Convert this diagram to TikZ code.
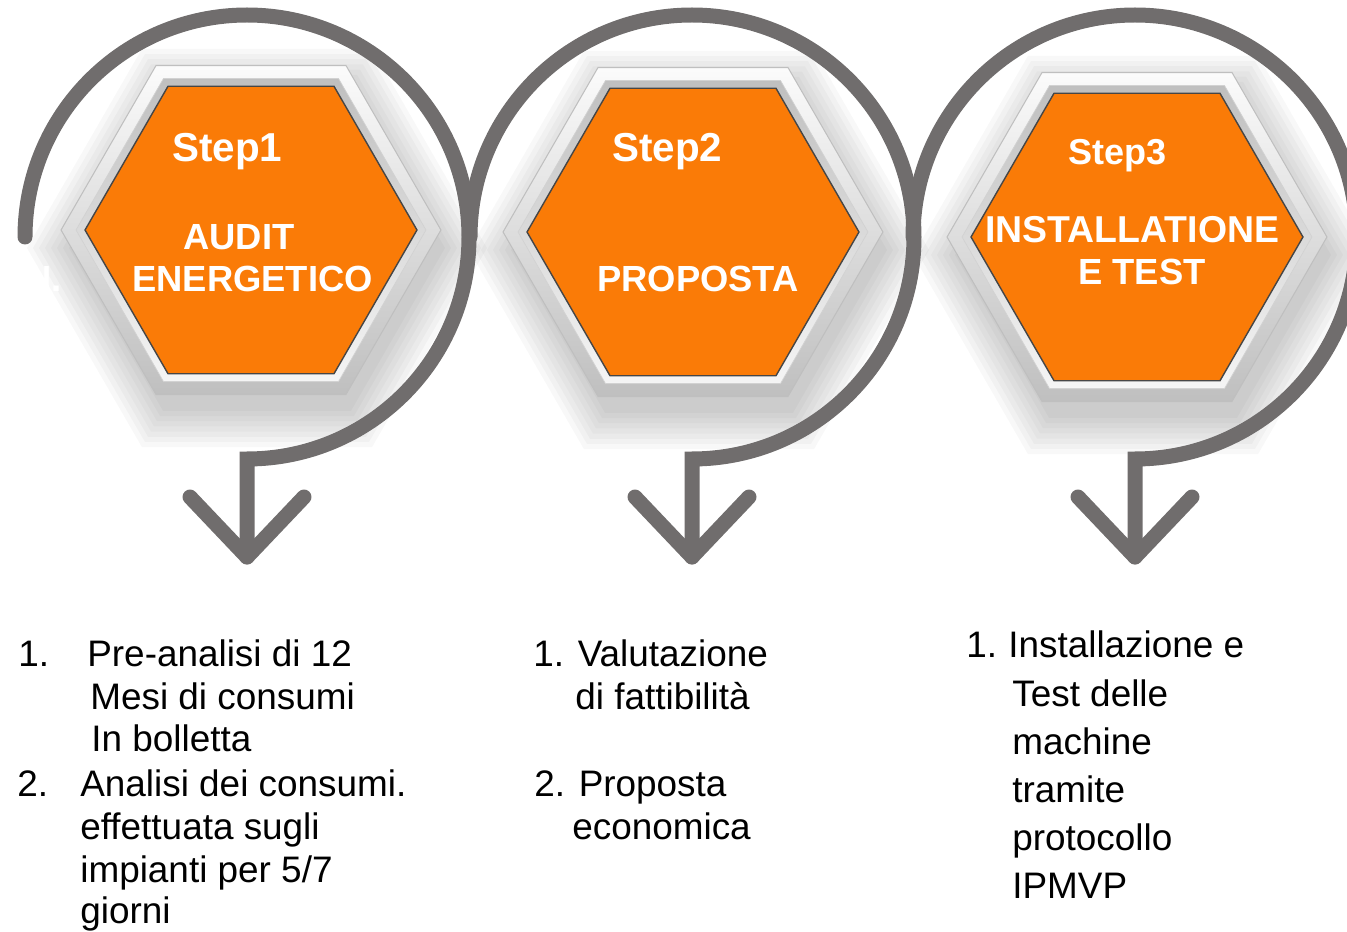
\documentclass[tikz,border=0pt]{standalone}
\usepackage{fontspec}
\setmainfont{Liberation Sans}
\usetikzlibrary{shapes.geometric}
\definecolor{stepor}{RGB}{250,123,7}
\definecolor{ringgray}{RGB}{112,109,109}
\tikzset{
  ring/.style={draw=ringgray, line width=0.3cm, line cap=round},
  hexbase/.style={regular polygon, regular polygon sides=6, inner sep=0pt, outer sep=0pt},
  silverframe/.style={hexbase, minimum size=7.6cm, top color=gray!3, bottom color=gray!50, draw=gray!50, line width=0.6pt},
  silverrim/.style={hexbase, minimum size=7.0cm, top color=gray!50, bottom color=gray!8, draw=gray!35, line width=0.4pt},
  orangehex/.style={hexbase, minimum size=6.64cm, fill=stepor, draw=gray!55!black, line width=0.8pt},
  steptxt/.style={anchor=base west, inner sep=0pt, text=white, font=\bfseries\fontsize{23}{27}\selectfont},
  titletxt/.style={anchor=base west, inner sep=0pt, text=white, font=\bfseries\fontsize{20.7}{24}\selectfont},
  bodytxt/.style={anchor=base west, inner sep=0pt, font=\fontsize{21}{25}\selectfont}
}
\begin{document}
\begin{tikzpicture}[x=0.02cm,y=-0.02cm]
  \useasboundingbox (0,0) rectangle (1347,932);
  \clip (0,0) rectangle (1347,932);
  % soft shadows under the hexagons
  \foreach \cx/\cy in {251/230, 693/232, 1137/237}{
    \foreach \r in {188,194,...,230}
      \fill[black, opacity=0.028] (\cx+6,\cy+18) ++(0:\r) -- ++(120:\r) -- ++(180:\r) -- ++(240:\r) -- ++(300:\r) -- ++(0:\r) -- cycle;
  }
  % rings with arrows
  \foreach \cx/\a in {247/180, 692/180, 1135/180}{
    \draw[ring] (\cx,237) ++(\a:222) arc[start angle=\a, end angle=450, radius=222] -- (\cx,557);
    \draw[ring, line join=round] (\cx-57,497) -- (\cx,557) -- (\cx+57,497);
  }
  % hexagons
  \node[silverframe] (frameA) at (251,230) {};
  \node[silverrim] (rimA) at (frameA.center) {};
  \node[orangehex] (hexA) at (frameA.center) {};
  \node[silverframe] (frameB) at (693,232) {};
  \node[silverrim] (rimB) at (frameB.center) {};
  \node[orangehex] (hexB) at (frameB.center) {};
  \node[silverframe] (frameC) at (1137,237) {};
  \node[silverrim] (rimC) at (frameC.center) {};
  \node[orangehex] (hexC) at (frameC.center) {};
  % hexagon texts
  \node[titletxt] (ghost) at (25,292) {N.};
  \node[steptxt] (stepA) at (172,162) {Step1};
  \node[titletxt] (auditA) at (183,250) {AUDIT};
  \node[titletxt] (auditB) at (132,292) {ENERGETICO};
  \node[steptxt] (stepB) at (612,162) {Step2};
  \node[titletxt] (propB) at (597,292) {PROPOSTA};
  \node[titletxt, font=\bfseries\fontsize{20.5}{24}\selectfont] (stepC) at (1068,165) {Step3};
  \node[titletxt, font=\bfseries\fontsize{21.3}{24}\selectfont] (instC) at (985,243) {INSTALLATIONE};
  \node[titletxt] (testC) at (1078,285) {E TEST};
  % first column
  \node[bodytxt] (numA1) at (18,667) {1.};
  \node[bodytxt] (itemA1) at (87,667) {Pre-analisi di 12};
  \node[bodytxt] (itemA1b) at (90,710) {Mesi di consumi};
  \node[bodytxt] (itemA1c) at (91,752) {In bolletta};
  \node[bodytxt] (numA2) at (17,797) {2.};
  \node[bodytxt] (itemA2) at (80,797) {Analisi dei consumi.};
  \node[bodytxt] (itemA2b) at (80,840) {effettuata sugli};
  \node[bodytxt] (itemA2c) at (80,882) {impianti per 5/7};
  \node[bodytxt] (itemA2d) at (80,923) {giorni};
  % second column
  \node[bodytxt] (itemB1) at (533,667) {1. Valutazione};
  \node[bodytxt] (itemB1b) at (575,710) {di fattibilità};
  \node[bodytxt] (itemB2) at (534,797) {2. Proposta};
  \node[bodytxt] (itemB2b) at (572,840) {economica};
  % third column
  \node[bodytxt] (numC1) at (966,658) {1.};
  \node[bodytxt] (itemC1) at (1008,658) {Installazione e};
  \node[bodytxt] (itemC1b) at (1012,707) {Test delle};
  \node[bodytxt] (itemC1c) at (1012,755) {machine};
  \node[bodytxt] (itemC1d) at (1012,803) {tramite};
  \node[bodytxt] (itemC1e) at (1012,850) {protocollo};
  \node[bodytxt] (itemC1f) at (1012,898) {IPMVP};
\end{tikzpicture}
\end{document}
